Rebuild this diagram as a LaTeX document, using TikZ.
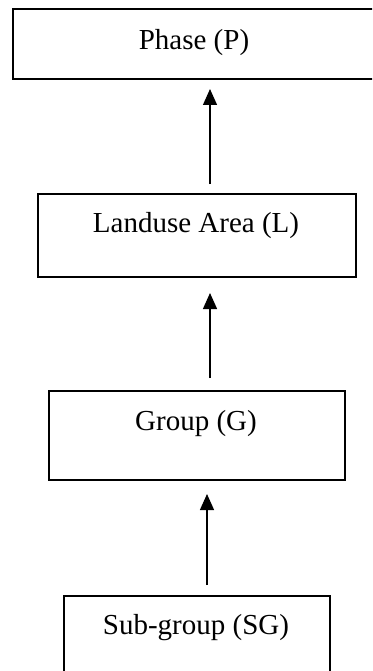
\documentclass[tikz,border=0pt]{standalone}
\usepackage{fontspec}
\setmainfont{Liberation Serif}
\usetikzlibrary{arrows.meta,calc}

\tikzset{
  levelbox/.style={draw, line width=2pt, inner sep=0pt, anchor=north west},
  leveltext/.style={anchor=base, inner sep=0pt, font=\fontsize{29}{34}\selectfont},
  uparrow/.style={line width=1.3pt, -{Triangle[length=16pt,width=14pt]}}
}

\begin{document}
\begin{tikzpicture}[x=1pt,y=1pt,yscale=-1,xscale=1]
	% page is 372 x 671, boxes run off the right and bottom edges
	\clip (0,0) rectangle (372,671);
	
	%Shape: Rectangle [Phase]
	\node [levelbox, minimum width=368pt, minimum height=70pt] (P) at (12,8) {};
	%Shape: Rectangle [Landuse Area]
	\node [levelbox, minimum width=318pt, minimum height=83pt] (L) at (37,193) {};
	%Shape: Rectangle [Group]
	\node [levelbox, minimum width=296pt, minimum height=89pt] (G) at (48,390) {};
	%Shape: Rectangle [Sub-group]
	\node [levelbox, minimum width=266pt, minimum height=95pt] (SG) at (63,595) {};
	
	% Text Node
	\node [leveltext] (Ptxt) at (194,50) {Phase (P)};
	% Text Node
	\node [leveltext] (Ltxt) at (196,232) {Landuse Area (L)};
	% Text Node
	\node [leveltext] (Gtxt) at (196,430) {Group (G)};
	% Text Node
	\node [leveltext] (SGtxt) at (196,634) {Sub-group (SG)};
	
	%Straight Lines [L to P]
	\draw [uparrow] ($(L.north)+(13,-9)$) -- ($(P.south)+(13,9)$);
	%Straight Lines [G to L]
	\draw [uparrow] ($(G.north)+(13,-12)$) -- ($(L.south)+(13,15)$);
	%Straight Lines [SG to G]
	\draw [uparrow] ($(SG.north)+(10,-10)$) -- ($(G.south)+(10,13)$);
	
\end{tikzpicture}
\end{document}
